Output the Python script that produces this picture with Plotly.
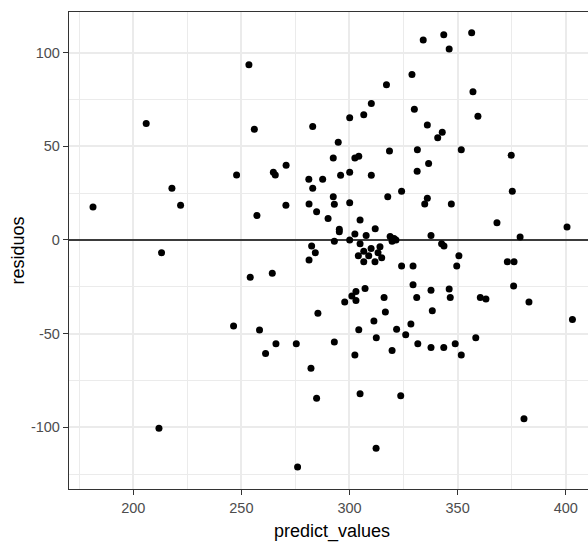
import plotly.graph_objects as go

predict_values = [
    181.4, 206.0, 211.9, 213.1, 217.9, 221.9, 246.4, 247.8, 253.5, 254.1,
    256.0, 257.2, 258.4, 261.2, 264.8, 265.7, 264.3, 266.0, 270.7, 270.6,
    275.4, 276.0, 281.2, 281.3, 281.3, 282.2, 282.5, 283.0, 283.0, 284.2,
    284.8, 284.8, 285.4, 287.6, 290.1, 292.5, 292.5, 293.0, 293.0, 293.0,
    294.8, 295.3, 295.3, 295.9, 297.8, 300.1, 300.1, 300.1, 300.1, 301.1,
    302.5, 304.3, 302.5, 302.5, 303.0, 303.0, 304.1, 304.3, 304.9, 304.9,
    304.9, 306.6, 306.6, 306.6, 307.2, 307.7, 308.9, 310.0, 310.1, 310.1,
    311.3, 311.8, 311.9, 312.4, 312.3, 313.2, 314.1, 314.9, 316.0, 316.6,
    317.1, 317.7, 318.5, 318.8, 319.7, 320.6, 321.5, 319.7, 321.8, 323.7,
    324.1, 324.1, 326.0, 328.4, 328.9, 329.4, 329.4, 330.0, 331.1, 331.3,
    331.4, 331.6, 334.1, 334.8, 336.0, 336.0, 336.6, 337.7, 337.7, 337.7,
    338.3, 340.8, 342.9, 342.6, 343.7, 343.6, 343.6, 346.1, 346.1, 346.6,
    347.1, 348.9, 349.6, 350.6, 351.7, 351.7, 356.5, 357.1, 358.4, 359.4,
    360.5, 363.1, 368.2, 373.0, 376.1, 374.8, 375.3, 375.9, 378.9, 380.7,
    383.0, 400.6, 403.1,
]

residuos = [
    17.6, 62.1, -100.6, -6.9, 27.6, 18.5, -45.9, 34.7, 93.6, -19.9,
    59.1, 13.0, -48.1, -60.7, 36.1, 34.6, -17.8, -55.4, 39.9, 18.5,
    -55.4, -121.3, 32.4, 19.2, -10.7, -68.5, -3.2, 60.5, 27.6, -6.9,
    15.1, -84.6, -39.2, 32.4, 11.4, 43.8, 23.1, 19.1, -0.7, -54.5,
    52.2, 5.7, 4.4, 34.5, -33.1, 65.2, 36.1, 19.9, 0.0, -29.9,
    43.8, 44.7, 3.2, -61.4, -27.6, -32.4, -8.5, -48.0, 10.7, -2.1,
    -82.1, 66.8, -6.0, -11.6, -26.0, 2.3, -8.5, -4.6, 72.8, 34.5,
    -43.3, -11.6, 6.0, -52.2, -111.3, -6.9, -3.7, -9.5, -30.8, -38.5,
    82.8, 23.0, 47.5, 1.8, -0.7, 0.7, 0.0, -59.1, -47.7, -83.2,
    26.0, -13.9, -50.7, -44.9, 88.3, -13.9, -23.9, 69.8, -30.8, 36.6,
    48.2, -55.4, 106.7, 19.2, 22.3, 61.4, 40.8, 2.3, -26.9, -57.5,
    -37.8, 54.5, 57.5, -2.1, -3.2, 109.6, -57.5, 102.0, -26.2, -30.8,
    19.2, -55.4, -13.9, -8.5, 48.2, -61.4, 110.6, 79.1, -52.2, 66.1,
    -30.8, -31.5, 9.2, -11.6, -11.6, 45.2, 26.0, -24.6, 1.6, -95.5,
    -33.1, 6.9, -42.5,
]

x_ticks = [200, 250, 300, 350, 400]
y_ticks = [-100, -50, 0, 50, 100]

FONT = "Liberation Sans, Arial, sans-serif"
GRID = "#EBEBEB"
BORDER = "#333333"

fig = go.Figure()
fig.add_trace(go.Scatter(
    x=predict_values, y=residuos, mode="markers",
    marker=dict(color="black", size=7, line=dict(width=0)),
    showlegend=False, hoverinfo="x+y",
))

fig.add_hline(y=0, line=dict(color="black", width=1.5))

fig.update_layout(
    width=588, height=542,
    margin=dict(l=69, r=0, t=12, b=53, autoexpand=False),
    paper_bgcolor="white", plot_bgcolor="white",
    font=dict(family=FONT, color="#4D4D4D"),
    xaxis=dict(
        range=[170.3, 410.3], automargin=False,
        tickvals=x_ticks, ticktext=[str(v) for v in x_ticks],
        showgrid=True, gridcolor=GRID, gridwidth=1.5,
        minor=dict(showgrid=True, gridcolor=GRID, gridwidth=1, dtick=25, tick0=0),
        showline=True, linecolor=BORDER, linewidth=1.3, mirror=True,
        ticks="outside", ticklen=5, tickcolor=BORDER, tickwidth=1.2,
        tickfont=dict(size=14.5, color="#4D4D4D"),
        zeroline=False,
    ),
    yaxis=dict(
        range=[-133.0, 121.7], automargin=False,
        tickvals=y_ticks, ticktext=[str(v) for v in y_ticks],
        showgrid=True, gridcolor=GRID, gridwidth=1.5,
        minor=dict(showgrid=True, gridcolor=GRID, gridwidth=1, dtick=25, tick0=0),
        showline=True, linecolor=BORDER, linewidth=1.3, mirror=False,
        ticks="outside", ticklen=5, tickcolor=BORDER, tickwidth=1.2,
        tickfont=dict(size=14.5, color="#4D4D4D"),
        zeroline=False,
    ),
    annotations=[
        dict(text="predict_values", xref="paper", yref="paper", x=0.5077, y=0,
             xanchor="center", yanchor="middle", yshift=-42, showarrow=False,
             font=dict(size=18, color="black", family=FONT)),
        dict(text="residuos", xref="paper", yref="paper", x=0, y=0.5,
             xanchor="center", yanchor="middle", xshift=-52, textangle=-90,
             showarrow=False, font=dict(size=18, color="black", family=FONT)),
    ],
)

fig.write_html(
    "out.html",
    config={"displayModeBar": False},
    post_script="document.body.style.margin='0';document.body.style.overflow='hidden';",
)
